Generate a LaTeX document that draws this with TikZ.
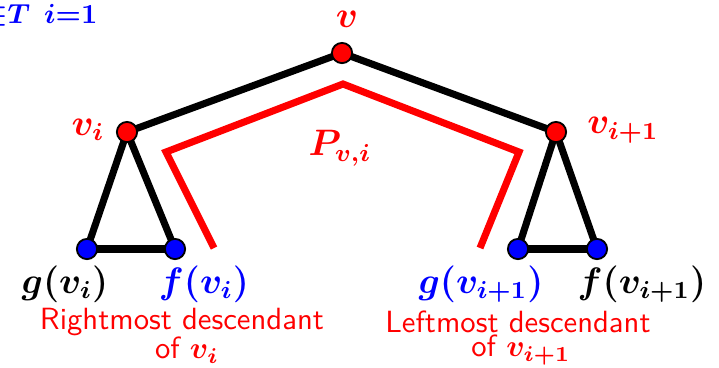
\documentclass[tikz,border=0pt]{standalone}
\usepackage{amsmath}
\pgfdeclarelayer{background}
\pgfsetlayers{background,main}
\begin{document}
\begin{tikzpicture}[x=0.326pt,y=-0.326pt,
  edge/.style={line width=2.3pt,black},
  pathline/.style={line width=2.3pt,red},
  rednode/.style={circle,fill=red,draw=black,line width=0.6pt,minimum size=6.6pt,inner sep=0pt},
  bluenode/.style={circle,fill=blue,draw=black,line width=0.6pt,minimum size=6.6pt,inner sep=0pt},
  mlabel/.style={font=\large\boldmath,inner sep=0pt},
  desc/.style={font=\sffamily,text=red,inner sep=0pt,align=center}]
\useasboundingbox (0,0) rectangle (719,367);
% tree nodes
\node[rednode] (v) at (342,53) {};
\node[rednode] (vi) at (127,132) {};
\node[rednode] (vj) at (556,132) {};
\node[bluenode] (gvi) at (87,249) {};
\node[bluenode] (fvi) at (175,249) {};
\node[bluenode] (gvj) at (518,249) {};
\node[bluenode] (fvj) at (597,249) {};
\begin{pgfonlayer}{background}
\draw[edge] (v.center) -- (vi.center);
\draw[edge] (v.center) -- (vj.center);
\draw[edge] (vi.center) -- (gvi.center);
\draw[edge] (gvi.center) -- (fvi.center);
\draw[edge] (fvi.center) -- (vi.center);
\draw[edge] (vj.center) -- (gvj.center);
\draw[edge] (gvj.center) -- (fvj.center);
\draw[edge] (fvj.center) -- (vj.center);
\end{pgfonlayer}
% red path P_{v,i}
\coordinate (p1) at (214,248);
\coordinate (p2) at (166,152);
\coordinate (p3) at (343,84);
\coordinate (p4) at (519,152);
\coordinate (p5) at (480,248);
\draw[pathline] (p1) -- (p2) -- (p3) -- (p4) -- (p5);
% labels
\node[mlabel,text=red] (lv) at (347,19) {$v$};
\node[mlabel,text=red] (lvi) at (88,130) {$v_i$};
\node[mlabel,text=red] (lvj) at (623,130) {$v_{i+1}$};
\node[mlabel,text=red] (lP) at (340,148) {$P_{v,i}$};
\node[mlabel,text=black] (lgvi) at (65,284) {$g(v_i)$};
\node[mlabel,text=blue] (lfvi) at (204,284) {$f(v_i)$};
\node[mlabel,text=blue] (lgvj) at (481,284) {$g(v_{i+1})$};
\node[mlabel,text=black] (lfvj) at (642,284) {$f(v_{i+1})$};
\node[desc] (d1) at (182,322) {Rightmost descendant};
\node[desc] (d1b) at (187,350) {of {\boldmath$v_i$}};
\node[desc] (d2) at (518,322) {Leftmost descendant};
\node[desc] (d2b) at (521,350) {of {\boldmath$v_{i+1}$}};
\node[font=\fontsize{12.3}{14}\selectfont\boldmath,text=blue,inner sep=0pt,anchor=east] (top) at (98,15) {$\scriptstyle\in T\hspace{4.5pt}i=1$};
\end{tikzpicture}
\end{document}
